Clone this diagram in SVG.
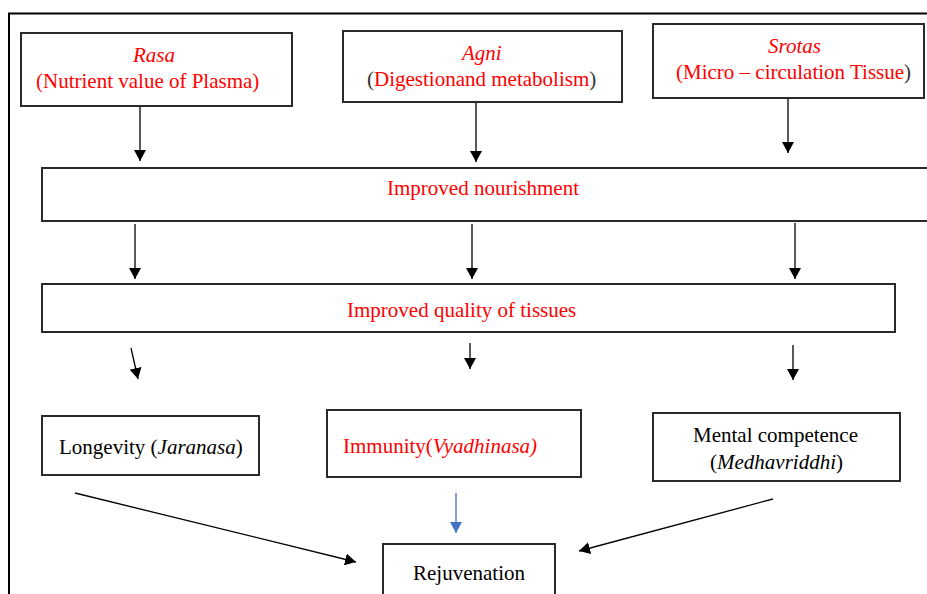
<svg xmlns="http://www.w3.org/2000/svg" width="927" height="594" viewBox="0 0 927 594">
<defs>
<style>
.box{fill:#fff;stroke:#2a2a2a;stroke-width:2}
.t{font-family:"Liberation Serif","Times New Roman",serif;font-size:21px;fill:#000}
.r{fill:#ff0000}
.d{fill:#333}
.i{font-style:italic}
.c{stroke:#000;stroke-width:1.3;fill:none}
.cb{stroke:#4472c4;stroke-width:1.3;fill:none}
</style>
<marker id="ah" markerUnits="userSpaceOnUse" markerWidth="13" markerHeight="12" refX="11" refY="6" orient="auto">
<path d="M0,0 L11,6 L0,12 Z" fill="#000"/>
</marker>
<marker id="ahb" markerUnits="userSpaceOnUse" markerWidth="13" markerHeight="12" refX="11" refY="6" orient="auto">
<path d="M0,0 L11,6 L0,12 Z" fill="#4472c4"/>
</marker>
</defs>
<rect width="927" height="594" fill="#fff"/>
<rect x="9" y="13.5" width="940" height="600" fill="none" stroke="#000" stroke-width="2"/>

<g id="connectors">
<line class="c" x1="140" y1="106" x2="140" y2="161" marker-end="url(#ah)"/>
<line class="c" x1="476" y1="102" x2="476" y2="162" marker-end="url(#ah)"/>
<line class="c" x1="788" y1="98" x2="788" y2="153" marker-end="url(#ah)"/>
<line class="c" x1="135" y1="224" x2="135" y2="279" marker-end="url(#ah)"/>
<line class="c" x1="472" y1="224" x2="472" y2="279" marker-end="url(#ah)"/>
<line class="c" x1="795" y1="223" x2="795" y2="279" marker-end="url(#ah)"/>
<line class="c" x1="131" y1="348" x2="138" y2="379" marker-end="url(#ah)"/>
<line class="c" x1="470" y1="343" x2="470" y2="369" marker-end="url(#ah)"/>
<line class="c" x1="793" y1="345" x2="793" y2="380" marker-end="url(#ah)"/>
<line class="cb" x1="456" y1="493" x2="456" y2="533" marker-end="url(#ahb)"/>
<line class="c" x1="75" y1="493" x2="356" y2="562" marker-end="url(#ah)"/>
<line class="c" x1="773" y1="499" x2="579" y2="551" marker-end="url(#ah)"/>
</g>

<g id="rasa">
<rect class="box" x="21" y="33" width="271" height="73"/>
<text class="t r i" x="133" y="62">Rasa</text>
<text class="t r" x="36" y="88">(Nutrient value of Plasma)</text>
</g>

<g id="agni">
<rect class="box" x="343" y="31" width="279" height="71"/>
<text class="t r i" x="462" y="60">Agni</text>
<text class="t" x="367" y="86"><tspan class="d">(</tspan><tspan class="r">Digestionand metabolism</tspan><tspan class="d">)</tspan></text>
</g>

<g id="srotas">
<rect class="box" x="653" y="24" width="271" height="74"/>
<text class="t r i" x="768" y="53">Srotas</text>
<text class="t" x="676" y="79"><tspan class="r">(Micro – circulation Tissue</tspan><tspan class="d">)</tspan></text>
</g>

<g id="nourishment">
<rect class="box" x="42" y="168" width="900" height="53"/>
<text class="t r" x="387" y="195" style="font-size:22px" textLength="192" lengthAdjust="spacingAndGlyphs">Improved nourishment</text>
</g>

<g id="quality">
<rect class="box" x="42" y="284" width="853" height="48"/>
<text class="t r" x="347" y="317">Improved quality of tissues</text>
</g>

<g id="longevity">
<rect class="box" x="42" y="416" width="217" height="59"/>
<text class="t" x="59" y="454">Longevity (<tspan class="i">Jaranasa</tspan>)</text>
</g>

<g id="immunity">
<rect class="box" x="327" y="410" width="254" height="67"/>
<text class="t r" x="343" y="453">Immunity(<tspan class="i">Vyadhinasa)</tspan></text>
</g>

<g id="mental">
<rect class="box" x="653" y="413" width="247" height="68"/>
<text class="t" x="693" y="442">Mental competence</text>
<text class="t" x="710" y="469">(<tspan class="i">Medhavriddhi</tspan>)</text>
</g>

<g id="rejuvenation">
<rect class="box" x="383" y="544" width="172" height="70"/>
<text class="t" x="413" y="580">Rejuvenation</text>
</g>
</svg>
